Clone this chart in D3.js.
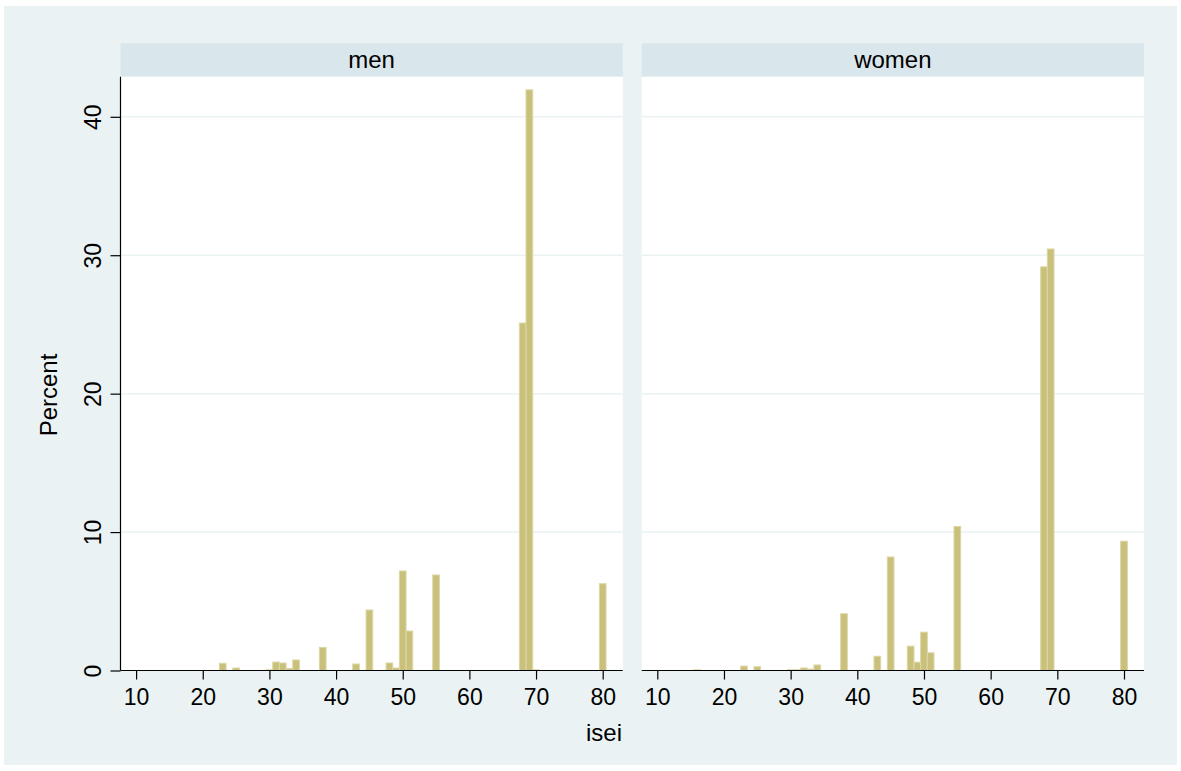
<!DOCTYPE html>
<html>
<head>
<meta charset="utf-8">
<script src="https://cdn.jsdelivr.net/npm/d3@7/dist/d3.min.js"></script>
<style>
  html, body { margin: 0; padding: 0; background: #ffffff; }
  svg { display: block; font-family: "Liberation Sans", Arial, Helvetica, sans-serif; }
</style>
</head>
<body>
<svg id="chart" width="1181" height="771"></svg>
<script>
// ---- data ----
const panels = ["men", "women"];
const iseiMen = [23, 25, 30, 31, 32, 33, 34, 38, 43, 45, 48, 49, 50, 51, 55, 68, 69, 70, 80];
const pctMen = [0.52, 0.18, 0.05, 0.61, 0.54, 0.15, 0.76, 1.67, 0.47, 4.37, 0.54, 0.18, 7.19, 2.85, 6.9, 25.1, 41.95, 0.05, 6.27];
const iseiWomen = [16, 23, 25, 30, 31, 32, 33, 34, 38, 43, 45, 48, 49, 50, 51, 55, 68, 69, 80];
const pctWomen = [0.05, 0.32, 0.27, 0.05, 0.05, 0.18, 0.1, 0.4, 4.1, 1.03, 8.2, 1.76, 0.6, 2.77, 1.28, 10.4, 29.16, 30.45, 9.34];
const xTicks = [10, 20, 30, 40, 50, 60, 70, 80];
const yTicks = [0, 10, 20, 30, 40];
const xTitle = "isei";
const yTitle = "Percent";

// ---- layout ----
const svg = d3.select("#chart");
const bgColor = "#EAF2F3";
const stripColor = "#D9E6EB";
const barFill = "#C9C07C";
const barStroke = "#DCD6A4";

svg.append("rect").attr("x", 4).attr("y", 6).attr("width", 1173).attr("height", 759).attr("fill", bgColor);

const stripTop = 43.3, plotTop = 76.7, plotBottom = 670.5;
const panelX = [[120.5, 622.7], [641.7, 1144]];
const y = d3.scaleLinear().domain([0, 40]).range([plotBottom, 116.8]);

const seriesX = [iseiMen, iseiWomen];
const seriesY = [pctMen, pctWomen];

panels.forEach((name, i) => {
  const [x0, x1] = panelX[i];
  const x = d3.scaleLinear().domain([7.66, 83.0]).range([x0, x1]);
  const g = svg.append("g");

  // strip
  g.append("rect").attr("x", x0).attr("y", stripTop).attr("width", x1 - x0).attr("height", plotTop - stripTop).attr("fill", stripColor);
  g.append("text").attr("x", (x0 + x1) / 2).attr("y", plotTop - 9).attr("text-anchor", "middle")
    .attr("font-size", 24).attr("fill", "#000").text(name);

  // plot area
  g.append("rect").attr("x", x0).attr("y", plotTop).attr("width", x1 - x0).attr("height", plotBottom - plotTop).attr("fill", "#fff");

  // gridlines
  g.selectAll(".grid").data(yTicks.filter(d => d > 0)).enter().append("line")
    .attr("x1", x0).attr("x2", x1).attr("y1", d => y(d)).attr("y2", d => y(d))
    .attr("stroke", bgColor).attr("stroke-width", 1.5);

  // bars
  const data = seriesX[i].map((v, k) => ({ v, p: seriesY[i][k] }));
  g.selectAll(".bar").data(data).enter().append("rect")
    .attr("x", d => x(d.v - 0.5)).attr("width", d => x(d.v + 0.5) - x(d.v - 0.5))
    .attr("y", d => y(d.p)).attr("height", d => y(0) - y(d.p))
    .attr("fill", barFill).attr("stroke", barStroke).attr("stroke-width", 1);

  // x axis
  const xAxis = d3.axisBottom(x).tickValues(xTicks).tickSize(9).tickPadding(9).tickFormat(d3.format("d"));
  const ax = g.append("g").attr("transform", `translate(0,${plotBottom})`).call(xAxis);
  ax.select(".domain").attr("d", `M${x0},0H${x1}`).attr("stroke", "#000").attr("stroke-width", 1.2);
  ax.selectAll(".tick line").attr("stroke", "#000").attr("stroke-width", 1.2);
  ax.selectAll(".tick text").attr("font-size", 23).attr("fill", "#000").attr("font-family", "Liberation Sans, Arial, sans-serif");

  if (i === 0) {
    const yAxis = d3.axisLeft(y).tickValues(yTicks).tickSize(10).tickPadding(0).tickFormat(d3.format("d"));
    const ay = g.append("g").attr("transform", `translate(${x0},0)`).call(yAxis);
    ay.select(".domain").attr("d", `M0,${plotTop}V${plotBottom}`).attr("stroke", "#000").attr("stroke-width", 1.2);
    ay.selectAll(".tick line").attr("stroke", "#000").attr("stroke-width", 1.2);
    ay.selectAll(".tick text")
      .attr("font-size", 23).attr("fill", "#000").attr("font-family", "Liberation Sans, Arial, sans-serif")
      .attr("x", null).attr("dy", null)
      .attr("text-anchor", "middle")
      .attr("transform", "translate(-20,0) rotate(-90)");
  }
});

// axis titles
svg.append("text").attr("x", 604).attr("y", 741).attr("text-anchor", "middle")
  .attr("font-size", 24).attr("fill", "#000").text(xTitle);
svg.append("text").attr("transform", "translate(57,395) rotate(-90)").attr("text-anchor", "middle")
  .attr("font-size", 24).attr("fill", "#000").text(yTitle);
</script>
</body>
</html>
